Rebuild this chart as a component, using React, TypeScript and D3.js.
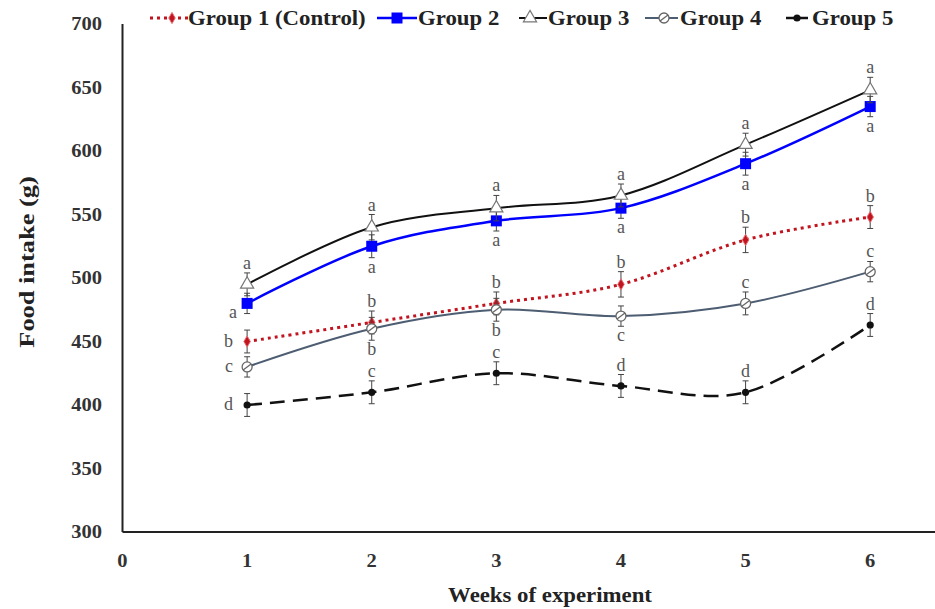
import { useEffect, useRef } from "react";
import * as d3 from "d3";

const weeks = [1, 2, 3, 4, 5, 6];
const xTicks = [0, 1, 2, 3, 4, 5, 6];
const yTicks = [300, 350, 400, 450, 500, 550, 600, 650, 700];

const groupNames = ["Group 1 (Control)", "Group 2", "Group 3", "Group 4", "Group 5"];

const group1 = [450, 465, 480, 495, 530, 548];
const group2 = [480, 525, 545, 555, 590, 635];
const group3 = [495, 540, 555, 565, 605, 648];
const group4 = [430, 460, 475, 470, 480, 505];
const group5 = [400, 410, 425, 415, 410, 463];

const group1Err = [9, 9, 9, 10, 10, 9];
const group2Err = [8, 9, 8, 8, 9, 8];
const group3Err = [9, 10, 10, 9, 9, 10];
const group4Err = [8, 9, 9, 8, 9, 8];
const group5Err = [9, 9, 9, 9, 9, 9];

// significance letters and where they sit relative to each point
const letters1 = ["b", "b", "b", "b", "b", "b"];
const letters2 = ["a", "a", "a", "a", "a", "a"];
const letters3 = ["a", "a", "a", "a", "a", "a"];
const letters4 = ["c", "b", "b", "c", "c", "c"];
const letters5 = ["d", "c", "c", "d", "d", "d"];
const place1 = ["left", "above", "above", "above", "above", "above"];
const place2 = ["leftBelow", "below", "below", "below", "below", "below"];
const place3 = ["above", "above", "above", "above", "above", "above"];
const place4 = ["left", "below", "below", "below", "above", "above"];
const place5 = ["left", "above", "above", "above", "above", "above"];

const W = 935;
const H = 609;
const FONT = "'Liberation Serif', 'Times New Roman', serif";
const STRETCH = 1.14;

type Series = {
  name: string;
  values: number[];
  errors: number[];
  letters: string[];
  place: string[];
  color: string;
  width: number;
  dash: string | null;
  marker: string;
  legendX: [number, number, number, number];
};

const series: Series[] = [
  { name: groupNames[0], values: group1, errors: group1Err, letters: letters1, place: place1,
    color: "#c0141e", width: 3, dash: "3,4", marker: "diamond", legendX: [150, 190, 172, 188] },
  { name: groupNames[1], values: group2, errors: group2Err, letters: letters2, place: place2,
    color: "#0000ff", width: 2.5, dash: null, marker: "square", legendX: [377, 417, 397, 418] },
  { name: groupNames[2], values: group3, errors: group3Err, letters: letters3, place: place3,
    color: "#111111", width: 2, dash: null, marker: "triangle", legendX: [519, 547, 530, 548] },
  { name: groupNames[3], values: group4, errors: group4Err, letters: letters4, place: place4,
    color: "#4d5d72", width: 2, dash: null, marker: "slash", legendX: [645, 678, 664, 680] },
  { name: groupNames[4], values: group5, errors: group5Err, letters: letters5, place: place5,
    color: "#111111", width: 2.5, dash: "15,8", marker: "dot", legendX: [786, 808, 797, 812] },
];

function drawMarker(
  g: d3.Selection<SVGGElement, unknown, null, undefined>,
  kind: string,
  cx: number,
  cy: number
) {
  if (kind === "diamond") {
    g.append("path")
      .attr("d", d3.symbol(d3.symbolDiamond, 36)()!)
      .attr("transform", `translate(${cx},${cy})`)
      .attr("fill", "#c0141e")
      .attr("stroke", "#e86a70")
      .attr("stroke-width", 1);
  } else if (kind === "square") {
    g.append("rect")
      .attr("x", cx - 5.5)
      .attr("y", cy - 5.5)
      .attr("width", 11)
      .attr("height", 11)
      .attr("fill", "#0000ff");
  } else if (kind === "triangle") {
    g.append("path")
      .attr("d", d3.symbol(d3.symbolTriangle, 75)()!)
      .attr("transform", `translate(${cx},${cy})`)
      .attr("fill", "#ffffff")
      .attr("stroke", "#777")
      .attr("stroke-width", 1.2);
  } else if (kind === "slash") {
    g.append("circle")
      .attr("cx", cx)
      .attr("cy", cy)
      .attr("r", 5)
      .attr("fill", "#fff")
      .attr("stroke", "#666")
      .attr("stroke-width", 1.3);
    g.append("line")
      .attr("x1", cx - 4)
      .attr("y1", cy + 3)
      .attr("x2", cx + 4)
      .attr("y2", cy - 3)
      .attr("stroke", "#666")
      .attr("stroke-width", 1.3);
  } else {
    g.append("circle")
      .attr("cx", cx)
      .attr("cy", cy)
      .attr("r", 3.6)
      .attr("fill", "#111");
  }
}

const Chart = () => {
  const svgRef = useRef<SVGSVGElement | null>(null);

  useEffect(() => {
    if (!svgRef.current) return;
    const svg = d3.select(svgRef.current);
    svg.selectAll("*").remove();

    const x = d3.scaleLinear().domain([0, 6.52]).range([122.5, W]);
    const y = d3.scaleLinear().domain([300, 700]).range([532, 24]);

    const g = svg.append("g");

    // axes
    g.append("line")
      .attr("x1", x(0)).attr("x2", x(0))
      .attr("y1", y(700)).attr("y2", y(300))
      .attr("stroke", "#222").attr("stroke-width", 2);
    g.append("line")
      .attr("x1", x(0)).attr("x2", W)
      .attr("y1", y(300)).attr("y2", y(300))
      .attr("stroke", "#222").attr("stroke-width", 2);

    yTicks.forEach((t) => {
      g.append("text")
        .attr("transform", `translate(102,${y(t) + 6}) scale(${STRETCH},1)`)
        .attr("text-anchor", "end")
        .attr("font-family", FONT)
        .attr("font-weight", "bold")
        .attr("font-size", 18)
        .attr("fill", "#333")
        .text(String(t));
    });
    xTicks.forEach((t) => {
      g.append("text")
        .attr("transform", `translate(${x(t)},567) scale(${STRETCH},1)`)
        .attr("text-anchor", "middle")
        .attr("font-family", FONT)
        .attr("font-weight", "bold")
        .attr("font-size", 18)
        .attr("fill", "#333")
        .text(String(t));
    });

    g.append("text")
      .attr("transform", `translate(550,602) scale(${STRETCH},1)`)
      .attr("text-anchor", "middle")
      .attr("font-family", FONT)
      .attr("font-weight", "bold")
      .attr("font-size", 20)
      .attr("fill", "#222")
      .text("Weeks of experiment");

    g.append("text")
      .attr("transform", `translate(34,262) rotate(-90) scale(1.2,1)`)
      .attr("text-anchor", "middle")
      .attr("font-family", FONT)
      .attr("font-weight", "bold")
      .attr("font-size", 22)
      .attr("fill", "#222")
      .text("Food intake (g)");

    const line = d3
      .line<number>()
      .x((_, i) => x(weeks[i]))
      .y((v) => y(v))
      .curve(d3.curveCardinal.tension(0));

    // lines
    series.forEach((s) => {
      g.append("path")
        .attr("d", line(s.values)!)
        .attr("fill", "none")
        .attr("stroke", s.color)
        .attr("stroke-width", s.width)
        .attr("stroke-dasharray", s.dash ?? null);
    });

    // error bars, markers, letters
    series.forEach((s) => {
      const sg = g.append("g");
      s.values.forEach((v, i) => {
        const cx = x(weeks[i]);
        const top = y(v + s.errors[i]);
        const bot = y(v - s.errors[i]);
        sg.append("line")
          .attr("x1", cx).attr("x2", cx).attr("y1", top).attr("y2", bot)
          .attr("stroke", "#444").attr("stroke-width", 1);
        [top, bot].forEach((yy) => {
          sg.append("line")
            .attr("x1", cx - 3).attr("x2", cx + 3).attr("y1", yy).attr("y2", yy)
            .attr("stroke", "#444").attr("stroke-width", 1);
        });
        drawMarker(sg, s.marker, cx, y(v));

        const p = s.place[i];
        let lx = cx;
        let ly = top - 4;
        let anchor = "middle";
        if (p === "below") ly = bot + 15;
        if (p === "left") {
          lx = cx - 14;
          ly = y(v) + 5;
          anchor = "end";
        }
        if (p === "leftBelow") {
          lx = cx - 10;
          ly = y(v) + 15;
          anchor = "end";
        }
        sg.append("text")
          .attr("x", lx)
          .attr("y", ly)
          .attr("text-anchor", anchor)
          .attr("font-family", FONT)
          .attr("font-size", 18)
          .attr("fill", "#555")
          .text(s.letters[i]);
      });
    });

    // legend
    series.forEach((s) => {
      const [x1, x2, mx, tx] = s.legendX;
      const lg = g.append("g");
      lg.append("line")
        .attr("x1", x1).attr("x2", x2).attr("y1", 18).attr("y2", 18)
        .attr("stroke", s.color)
        .attr("stroke-width", s.width)
        .attr("stroke-dasharray", s.dash ? (s.marker === "dot" ? null : s.dash) : null);
      drawMarker(lg, s.marker, mx, 18);
      lg.append("text")
        .attr("transform", `translate(${tx},25) scale(${STRETCH},1)`)
        .attr("font-family", FONT)
        .attr("font-weight", "bold")
        .attr("font-size", 20)
        .attr("fill", "#222")
        .text(s.name);
    });
  }, []);

  return (
    <svg
      ref={svgRef}
      width={W}
      height={H}
      style={{ position: "absolute", left: 0, top: 0, background: "#fff" }}
    />
  );
};

export default function App() {
  return <Chart />;
}
